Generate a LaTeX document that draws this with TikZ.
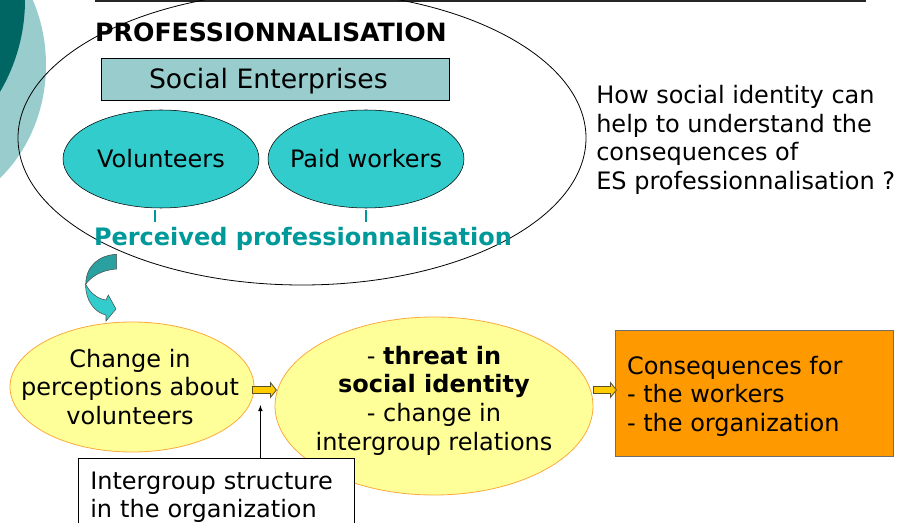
\documentclass[tikz,border=0pt]{standalone}
\usepackage{fontspec}
\setmainfont{DejaVu Sans}
\usetikzlibrary{shapes.geometric,calc}

\definecolor{tealdark}{RGB}{0,102,99}
\definecolor{teallight}{RGB}{153,204,204}
\definecolor{cyanfill}{RGB}{51,204,204}
\definecolor{curvdark}{RGB}{42,160,160}
\definecolor{percteal}{RGB}{0,153,153}
\definecolor{yellowfill}{RGB}{255,255,153}
\definecolor{yellowline}{RGB}{250,170,60}
\definecolor{arrowfill}{RGB}{255,204,0}
\definecolor{arrowline}{RGB}{90,80,40}
\definecolor{orangefill}{RGB}{255,153,0}
\definecolor{orangeline}{RGB}{110,110,110}

\begin{document}
\begin{tikzpicture}[x=0.75pt,y=-0.75pt,
	every node/.style={font=\fontsize{18}{21.5}\selectfont},
	bold/.style={font=\fontsize{18}{21.5}\selectfont\bfseries},
	cyanell/.style={draw,ellipse,fill=cyanfill,inner sep=0pt,minimum width=147pt,minimum height=73.5pt},
	yellowell/.style={draw=yellowline,semithick,ellipse,fill=yellowfill,inner sep=0pt},
	blockarr/.style={draw=arrowline,fill=arrowfill,semithick,line join=miter},
	tickline/.style={draw=percteal,line width=1.5pt}]
	\useasboundingbox (0,0) rectangle (899,523);
	\clip (0,0) rectangle (899,523);

	\fill[teallight] (-88,65) ellipse [x radius=134, y radius=150];
	\fill[tealdark] (-156,0) circle [radius=181];
	\draw[line width=1.5pt,black!85] (95,1.5) -- (866,1.5);

	\node[draw,ellipse,semithick,inner sep=0pt,minimum width=426pt,minimum height=220.5pt] (prof) at (302,138) {};
	\node[bold,font=\fontsize{18.9}{21.5}\selectfont\bfseries] (title) at (271,32.5) {PROFESSIONNALISATION};
	\node[draw,fill=teallight,inner sep=0pt,minimum width=261pt,minimum height=31.5pt,
	label={[font=\fontsize{20}{24}\selectfont,xshift=-5pt,yshift=-1.5pt]center:Social Enterprises}] (se) at (275,79) {};
	\node[cyanell,label=center:Volunteers] (vol) at (161,159) {};
	\node[cyanell,label=center:Paid workers] (paid) at (366,159) {};
	\draw[tickline] ([xshift=-4.5pt]vol.south) ++(0,2) -- ++(0,12);
	\draw[tickline] (paid.south) ++(0,2) -- ++(0,12);
	\node[bold,text=percteal] (perc) at (303,238.5) {Perceived professionnalisation};

	\node[align=left,anchor=west,inner sep=0pt] (quest) at (596,140)
	{How social identity can\\help to understand the\\consequences of\\ES professionnalisation ?};

	% curved arrow
	\filldraw[draw=black!70,fill=curvdark] (116.7,254.3) .. controls (100,255) and (86,265) .. (85.7,284.3)
	.. controls (90,278) and (100,270) .. (116.7,269) -- cycle;
	\filldraw[draw=black!70,fill=cyanfill] (85.7,284.3) .. controls (85,300) and (95,313) .. (106,315)
	-- (106,321) -- (116,309) -- (108.3,295) -- (106,300) .. controls (98,299) and (90,293) .. (85.7,284.3) -- cycle;

	\node[yellowell,minimum width=183pt,minimum height=97.5pt,
	label={[align=center,xshift=-1.5pt]center:Change in\\perceptions about\\volunteers}] (change) at (132,387) {};
	\node[yellowell,minimum width=238.5pt,minimum height=133.5pt,
	label={[align=center,yshift=4pt]center:- \textbf{threat in}\\\textbf{social identity}\\- change in\\intergroup relations}] (threat) at (434,406) {};
	\node[draw=orangeline,fill=orangefill,minimum width=208.5pt,minimum height=94.5pt,
	label={[align=left,anchor=west,inner sep=0pt,xshift=9pt,yshift=-2.5pt]west:Consequences for\\- the workers\\- the organization}] (cons) at (754,393) {};
	\node[draw,fill=white,anchor=north west,align=left,text width=189pt,inner xsep=9pt,inner ysep=10pt] (inter) at (78,458)
	{Intergroup structure\\in the organization};

	\coordinate (a1) at ($(change.east)+(-2,3)$);
	\coordinate (a2) at ($(threat.east)+(0,-16)$);
	\draw[blockarr] (a1) ++(0,-3.5) -- ++(18,0) -- ++(0,-4) -- ++(6,7.5) -- ++(-6,7.5) -- ++(0,-4) -- ++(-18,0) -- cycle;
	\draw[blockarr] (a2) ++(0,-3.5) -- ++(17,0) -- ++(0,-4) -- ++(6,7.5) -- ++(-6,7.5) -- ++(0,-4) -- ++(-17,0) -- cycle;

	\coordinate (a1b) at ($(a1)+(8,15)$);
	\draw[semithick,-latex] (a1b |- inter.north) -- (a1b);
\end{tikzpicture}
\end{document}
